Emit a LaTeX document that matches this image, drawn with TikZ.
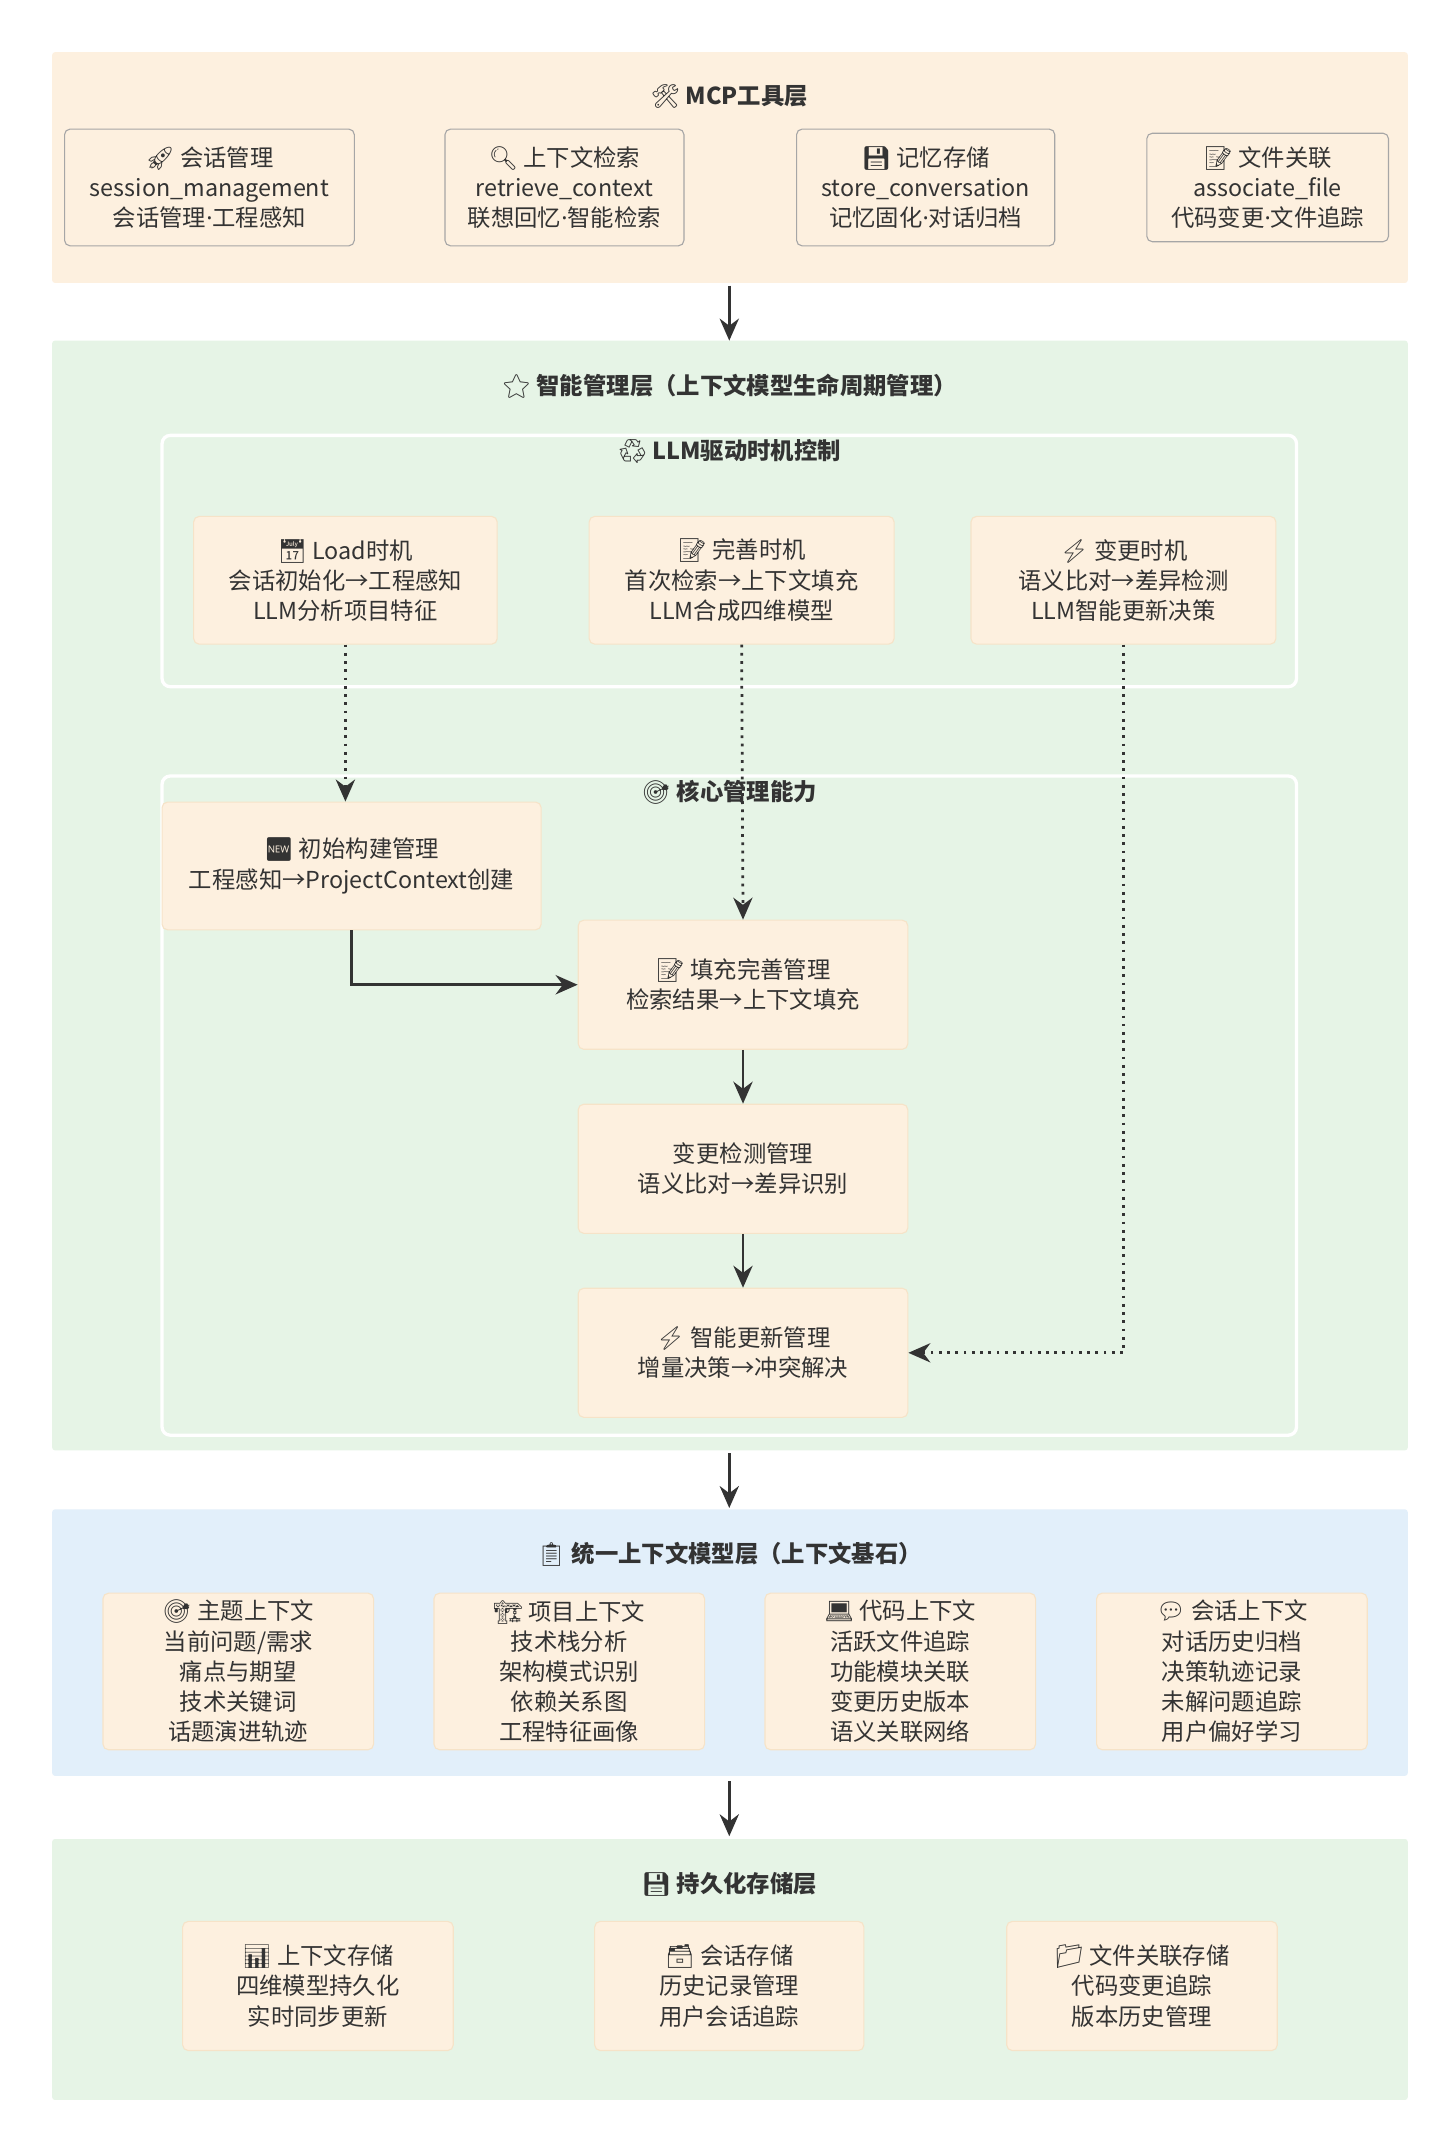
\documentclass[tikz,border=0pt]{standalone}
\usepackage{fontspec}
\setmainfont{Noto Sans CJK SC}
\newfontfamily\emo{Noto Emoji}
\newfontfamily\lat{Noto Sans}
\newcommand{\E}[1]{{\emo #1}}
\newcommand{\D}{{\lat ·}}
\usetikzlibrary{arrows.meta}
\definecolor{peach}{HTML}{FDF0DF}
\definecolor{grn}{HTML}{E6F4E6}
\definecolor{blu}{HTML}{E2EFFA}
\definecolor{bxline}{HTML}{F6E3C8}
\definecolor{ink}{HTML}{333333}
\tikzset{
 x=0.5pt,y=-0.5pt,
 every node/.style={font=\fontsize{8.5}{11}\selectfont, text=ink},
 layer/.style={draw=none, rounded corners=1pt},
 ttl/.style={font=\fontsize{8.5}{11}\selectfont\bfseries},
 tbox/.style={draw=gray!70, fill=peach, rounded corners=2pt, align=center, inner sep=0pt},
 cbox/.style={draw=bxline, fill=peach, rounded corners=2pt, align=center, inner sep=0pt},
 frame/.style={draw=white, line width=1.2pt, rounded corners=3pt},
 arr/.style={draw=ink, line width=1pt, -{Stealth[length=8pt,width=7pt]}},
 darr/.style={draw=ink, line width=1pt, dotted, -{Stealth[length=8pt,width=7pt]}},
}
\begin{document}
\begin{tikzpicture}
\useasboundingbox[fill=white] (0,0) rectangle (1060,1564);
% layer 1
\fill[peach,layer] (38,38) rectangle (1025,206);
\node[ttl] (t1) at (531,70) {\E{🛠} MCP工具层};
\node[tbox, minimum width=211pt*0.5, minimum height=85pt*0.5] (m1) at (152.5,136.5) {\E{🚀} 会话管理\\session\_management\\会话管理\D 工程感知};
\node[tbox, minimum width=174pt*0.5, minimum height=85pt*0.5] (m2) at (411,136.5) {\E{🔍} 上下文检索\\retrieve\_context\\联想回忆\D 智能检索};
\node[tbox, minimum width=188pt*0.5, minimum height=85pt*0.5] (m3) at (674,136.5) {\E{💾} 记忆存储\\store\_conversation\\记忆固化\D 对话归档};
\node[tbox, minimum width=176pt*0.5, minimum height=79pt*0.5] (m4) at (923,136.5) {\E{📝} 文件关联\\associate\_file\\代码变更\D 文件追踪};
% layer 2
\fill[grn,layer] (38,248) rectangle (1025,1056);
\node[ttl] (t2) at (531,281) {\E{⭐} 智能管理层（上下文模型生命周期管理）};
\draw[frame] (118,317) rectangle (944,500);
\node[ttl] (t2a) at (531,329) {\E{♻} LLM驱动时机控制};
\node[cbox, minimum width=221pt*0.5, minimum height=93pt*0.5] (l1) at (251.5,422.5) {\E{📅} Load时机\\会话初始化→工程感知\\LLM分析项目特征};
\node[cbox, minimum width=222pt*0.5, minimum height=93pt*0.5] (l2) at (540,422.5) {\E{📝} 完善时机\\首次检索→上下文填充\\LLM合成四维模型};
\node[cbox, minimum width=222pt*0.5, minimum height=93pt*0.5] (l3) at (818,422.5) {\E{⚡} 变更时机\\语义比对→差异检测\\LLM智能更新决策};
\draw[frame] (118,565) rectangle (944,1045);
\node[ttl] (t2b) at (531,577) {\E{🎯} 核心管理能力};
\node[cbox, minimum width=276pt*0.5, minimum height=93pt*0.5] (a) at (256,630.5) {\E{🆕} 初始构建管理\\工程感知→ProjectContext创建};
\node[cbox, minimum width=240pt*0.5, minimum height=94pt*0.5] (b) at (541,717) {\E{📝} 填充完善管理\\检索结果→上下文填充};
\node[cbox, minimum width=240pt*0.5, minimum height=94pt*0.5] (c) at (541,851) {变更检测管理\\语义比对→差异识别};
\node[cbox, minimum width=240pt*0.5, minimum height=94pt*0.5] (d) at (541,985) {\E{⚡} 智能更新管理\\增量决策→冲突解决};
\draw[darr] (l1.south) -- (l1.south |- a.north);
\draw[darr] (l2.south) -- (b.north);
\draw[darr] (l3.south) |- (d.east);
\draw[arr] (a.south) |- (b.west);
\draw[arr] (b) -- (c);
\draw[arr] (c) -- (d);
% layer 3
\fill[blu,layer] (38,1099) rectangle (1025,1293);
\node[ttl] (t3) at (531,1132) {\E{📋} 统一上下文模型层（上下文基石）};
\node[cbox, minimum width=197pt*0.5, minimum height=114pt*0.5] (u1) at (173.5,1217) {\E{🎯} 主题上下文\\当前问题/需求\\痛点与期望\\技术关键词\\话题演进轨迹};
\node[cbox, minimum width=197pt*0.5, minimum height=114pt*0.5] (u2) at (414.5,1217) {\E{🏗} 项目上下文\\技术栈分析\\架构模式识别\\依赖关系图\\工程特征画像};
\node[cbox, minimum width=197pt*0.5, minimum height=114pt*0.5] (u3) at (655.5,1217) {\E{💻} 代码上下文\\活跃文件追踪\\功能模块关联\\变更历史版本\\语义关联网络};
\node[cbox, minimum width=197pt*0.5, minimum height=114pt*0.5] (u4) at (897,1217) {\E{💬} 会话上下文\\对话历史归档\\决策轨迹记录\\未解问题追踪\\用户偏好学习};
% layer 4
\fill[grn,layer] (38,1339) rectangle (1025,1529);
\node[ttl] (t4) at (531,1372) {\E{💾} 持久化存储层};
\node[cbox, minimum width=197pt*0.5, minimum height=94pt*0.5] (s1) at (231.5,1446) {\E{📊} 上下文存储\\四维模型持久化\\实时同步更新};
\node[cbox, minimum width=196pt*0.5, minimum height=94pt*0.5] (s2) at (531,1446) {\E{🗃} 会话存储\\历史记录管理\\用户会话追踪};
\node[cbox, minimum width=197pt*0.5, minimum height=94pt*0.5] (s3) at (831.5,1446) {\E{📁} 文件关联存储\\代码变更追踪\\版本历史管理};
% inter-layer arrows
\coordinate (p1) at (531,208); \coordinate (q1) at (531,248);
\coordinate (p2) at (531,1058); \coordinate (q2) at (531,1098);
\coordinate (p3) at (531,1297); \coordinate (q3) at (531,1337);
\draw[arr] (p1) -- (q1);
\draw[arr] (p2) -- (q2);
\draw[arr] (p3) -- (q3);
\end{tikzpicture}
\end{document}
